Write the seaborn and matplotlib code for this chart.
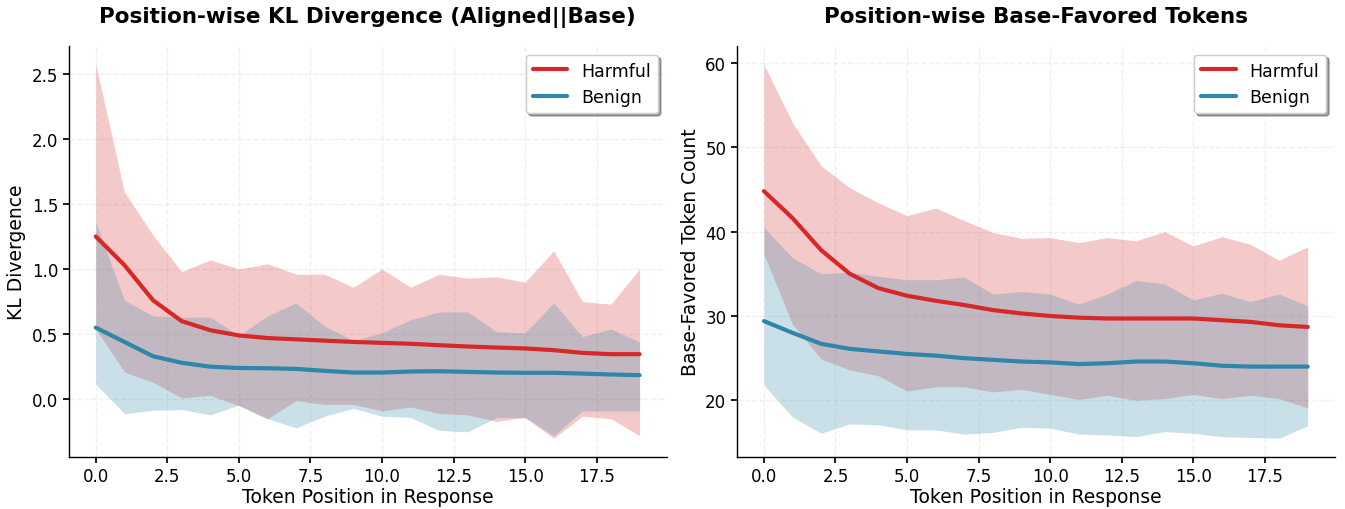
import numpy as np
import pandas as pd
import matplotlib
matplotlib.use("Agg")
import matplotlib.pyplot as plt
import seaborn as sns

positions = list(range(20))

kl_harmful_mean = [1.25, 1.03, 0.76, 0.60, 0.53, 0.49, 0.47, 0.46, 0.45, 0.44,
                   0.433, 0.426, 0.415, 0.405, 0.397, 0.39, 0.377, 0.356, 0.346, 0.346]
kl_harmful_upper = [2.57, 1.59, 1.26, 0.98, 1.07, 1.00, 1.04, 0.96, 0.96, 0.86,
                    1.00, 0.86, 0.96, 0.93, 0.94, 0.90, 1.14, 0.75, 0.73, 1.00]
kl_harmful_lower = [0.54, 0.21, 0.13, 0.01, 0.03, -0.05, -0.15, -0.01, -0.04, -0.04,
                    -0.09, -0.06, -0.11, -0.12, -0.17, -0.14, -0.30, -0.13, -0.15, -0.28]
kl_benign_mean = [0.55, 0.44, 0.33, 0.28, 0.25, 0.24, 0.238, 0.233, 0.218, 0.205,
                  0.205, 0.213, 0.215, 0.21, 0.205, 0.203, 0.203, 0.197, 0.19, 0.185]
kl_benign_upper = [1.36, 0.76, 0.64, 0.63, 0.63, 0.49, 0.64, 0.74, 0.56, 0.45,
                   0.51, 0.61, 0.67, 0.67, 0.52, 0.51, 0.74, 0.48, 0.54, 0.44]
kl_benign_lower = [0.115, -0.11, -0.085, -0.08, -0.12, -0.045, -0.15, -0.22, -0.13, -0.07,
                   -0.13, -0.14, -0.24, -0.25, -0.14, -0.14, -0.28, -0.09, -0.09, -0.09]

bf_harmful_mean = [44.8, 41.6, 37.8, 35.0, 33.3, 32.4, 31.8, 31.3, 30.7, 30.3,
                   30.0, 29.8, 29.7, 29.7, 29.7, 29.7, 29.5, 29.3, 28.9, 28.7]
bf_harmful_upper = [59.8, 52.9, 47.8, 45.2, 43.4, 41.9, 42.8, 41.3, 39.9, 39.2,
                    39.3, 38.7, 39.3, 38.9, 40.0, 38.3, 39.4, 38.5, 36.6, 38.2]
bf_harmful_lower = [37.3, 29.0, 24.9, 23.6, 22.9, 21.1, 21.6, 21.6, 21.0, 21.3,
                    20.7, 20.1, 20.6, 20.0, 20.2, 20.7, 20.2, 20.6, 20.2, 19.1]
bf_benign_mean = [29.4, 28.0, 26.7, 26.1, 25.8, 25.5, 25.3, 25.0, 24.8, 24.6,
                  24.5, 24.3, 24.4, 24.6, 24.6, 24.4, 24.1, 24.0, 24.0, 24.0]
bf_benign_upper = [40.5, 36.9, 35.0, 35.2, 34.7, 34.3, 34.3, 34.6, 32.6, 32.9,
                   32.6, 31.4, 32.6, 34.2, 33.8, 31.9, 32.7, 31.7, 32.6, 31.2]
bf_benign_lower = [21.8, 18.0, 16.1, 17.2, 17.1, 16.5, 16.5, 16.0, 16.2, 16.8,
                   16.7, 16.0, 15.9, 15.7, 16.3, 16.1, 15.7, 15.6, 15.5, 17.0]

groups = ["Harmful", "Benign"]
colors = {"Harmful": "#D62828", "Benign": "#2E86AB"}

sns.set_theme(style="white")
plt.rcParams["font.family"] = ["DejaVu Sans"]
for k in ["text.color", "axes.labelcolor", "xtick.color", "ytick.color"]:
    plt.rcParams[k] = "black"

fig, axes = plt.subplots(1, 2, figsize=(13.45, 5.1), dpi=100)
fig.subplots_adjust(left=0.051, right=0.9925, top=0.908, bottom=0.102, wspace=0.117)

panels = [
    (axes[0], "Position-wise KL Divergence (Aligned||Base)", "KL Divergence",
     {"Harmful": (kl_harmful_mean, kl_harmful_lower, kl_harmful_upper),
      "Benign": (kl_benign_mean, kl_benign_lower, kl_benign_upper)}),
    (axes[1], "Position-wise Base-Favored Tokens", "Base-Favored Token Count",
     {"Harmful": (bf_harmful_mean, bf_harmful_lower, bf_harmful_upper),
      "Benign": (bf_benign_mean, bf_benign_lower, bf_benign_upper)}),
]

for ax, title, ylabel, series in panels:
    rows = []
    for g in groups:
        m, lo, hi = series[g]
        for p, v in zip(positions, m):
            rows.append({"pos": p, "val": v, "group": g})
    df = pd.DataFrame(rows)
    sns.lineplot(data=df, x="pos", y="val", hue="group", hue_order=groups,
                 palette=colors, linewidth=3, ax=ax)
    for g in groups:
        m, lo, hi = series[g]
        ax.fill_between(positions, lo, hi, color=colors[g], alpha=0.25, linewidth=0)
    ax.set_title(title, fontsize=15.5, fontweight="bold", pad=17)
    ax.set_xlabel("Token Position in Response", fontsize=13.5, labelpad=1)
    ax.set_ylabel(ylabel, fontsize=13.5)
    ax.tick_params(axis="both", labelsize=12, length=4, left=True, bottom=True,
                   colors="black")
    ax.grid(True, linestyle="--", alpha=0.3)
    sns.despine(ax=ax)
    for s in ["left", "bottom"]:
        ax.spines[s].set_color("black")
        ax.spines[s].set_linewidth(1.0)
    leg = ax.legend(loc="upper right", fontsize=12.5, shadow=True, frameon=True,
                    title=None)
    for line in leg.get_lines():
        line.set_linewidth(3)

fig.savefig("out.png", dpi=100)
